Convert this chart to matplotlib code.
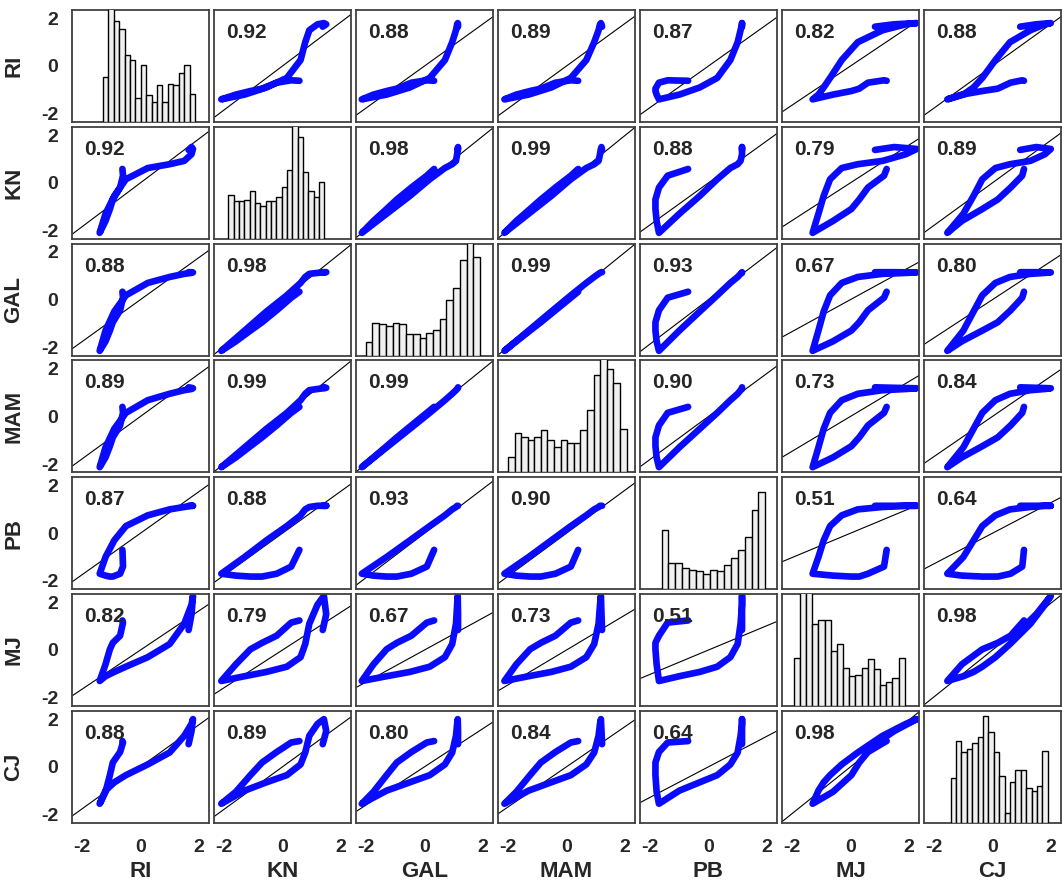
import numpy as np
import matplotlib
matplotlib.use("Agg")
import matplotlib.pyplot as plt

plt.rcParams["font.family"] = ["Liberation Sans", "DejaVu Sans"]
plt.rcParams["axes.unicode_minus"] = False

names = ["RI", "KN", "GAL", "MAM", "PB", "MJ", "CJ"]

# standardised series, read along the trajectory (one end -> low point -> other end)
ri = [-0.62, -0.60, -0.70, -0.95, -1.05, -1.20, -1.40, -1.20, -0.90, -0.50, 0.25, 1.00, 1.50, 1.75, 1.80, 1.75, 1.65]
kn = [0.58, 0.30, -0.20, -0.70, -1.10, -1.60, -2.10, -1.30, -0.55, 0.15, 0.62, 0.78, 0.92, 1.20, 1.42, 1.50, 1.38]
gal = [0.33, 0.08, -0.45, -0.95, -1.30, -1.75, -2.15, -1.30, -0.50, 0.18, 0.70, 0.95, 1.08, 1.12, 1.14, 1.15, 1.15]
mam = [0.40, 0.15, -0.38, -0.88, -1.25, -1.72, -2.13, -1.30, -0.52, 0.15, 0.68, 0.95, 1.10, 1.15, 1.18, 1.20, 1.22]
pb = [-0.70, -1.40, -1.70, -1.82, -1.82, -1.78, -1.70, -1.00, -0.30, 0.30, 0.75, 1.00, 1.10, 1.15, 1.15, 1.15, 1.15]
mj = [1.24, 1.15, 0.60, 0.30, 0.03, -0.60, -1.30, -1.10, -0.92, -0.70, -0.30, 0.25, 1.10, 1.90, 2.27, 1.50, 0.84]
cj = [1.08, 1.02, 0.62, 0.18, -0.35, -1.05, -1.55, -1.00, -0.65, -0.35, 0.10, 0.60, 1.30, 1.80, 2.00, 1.50, 0.95]

corr = [
    [1.00, 0.92, 0.88, 0.89, 0.87, 0.82, 0.88],
    [0.92, 1.00, 0.98, 0.99, 0.88, 0.79, 0.89],
    [0.88, 0.98, 1.00, 0.99, 0.93, 0.67, 0.80],
    [0.89, 0.99, 0.99, 1.00, 0.90, 0.73, 0.84],
    [0.87, 0.88, 0.93, 0.90, 1.00, 0.51, 0.64],
    [0.82, 0.79, 0.67, 0.73, 0.51, 1.00, 0.98],
    [0.88, 0.89, 0.80, 0.84, 0.64, 0.98, 1.00],
]

# histogram bar heights (relative to the panel height) and bin spans
hist_ri = [0.40, 1.05, 0.90, 0.83, 0.60, 0.55, 0.21, 0.51, 0.24, 0.18, 0.33, 0.18, 0.34, 0.33, 0.44, 0.51, 0.25]
hist_kn = [0.39, 0.34, 0.34, 0.35, 0.43, 0.32, 0.29, 0.34, 0.34, 0.37, 0.46, 0.61, 1.05, 0.91, 0.60, 0.43, 0.37, 0.51]
hist_gal = [0.12, 0.29, 0.28, 0.26, 0.29, 0.28, 0.19, 0.19, 0.16, 0.20, 0.23, 0.33, 0.50, 0.60, 0.85, 1.05, 0.88]
hist_mam = [0.14, 0.35, 0.32, 0.29, 0.32, 0.38, 0.29, 0.23, 0.29, 0.26, 0.26, 0.38, 0.56, 0.87, 1.05, 0.92, 0.80, 0.39]
hist_pb = [0.53, 0.23, 0.23, 0.19, 0.17, 0.16, 0.14, 0.17, 0.16, 0.22, 0.28, 0.35, 0.47, 0.71, 0.87]
hist_mj = [0.43, 1.05, 1.05, 0.73, 0.77, 0.77, 0.49, 0.55, 0.34, 0.27, 0.28, 0.34, 0.42, 0.33, 0.19, 0.21, 0.25, 0.43]
hist_cj = [0.40, 0.73, 0.63, 0.66, 0.71, 0.77, 0.95, 0.81, 0.63, 0.42, 0.09, 0.36, 0.47, 0.47, 0.31, 0.28, 0.33, 0.64]
hist_span = [(-1.29, 1.87), (-1.86, 1.44), (-2.02, 1.91), (-2.01, 2.06),
             (-1.61, 1.95), (-1.95, 1.86), (-1.44, 1.90)]

series = [ri, kn, gal, mam, pb, mj, cj]
hists = [hist_ri, hist_kn, hist_gal, hist_mam, hist_pb, hist_mj, hist_cj]

W, H = 1062, 890
fig = plt.figure(figsize=(W / 100, H / 100), dpi=100)
lim = 2.35
n = len(names)

for i in range(n):
    for j in range(n):
        left = 72 + 142 * j
        top = 10 + 116.8 * i
        ax = fig.add_axes([left / W, 1 - (top + 112) / H, 137 / W, 112 / H])
        ax.set_xlim(-lim, lim)
        ax.set_ylim(-lim, lim)
        ax.set_xticks([-2, 0, 2])
        ax.set_yticks([-2, 0, 2])
        ax.tick_params(length=0, labelsize=14)
        for lab in ax.get_xticklabels() + ax.get_yticklabels():
            lab.set_fontweight("bold")
            lab.set_color("#262626")
        ax.tick_params(axis="x", pad=12)
        ax.tick_params(axis="y", pad=10)
        if i < n - 1:
            ax.set_xticklabels([])
        if j > 0:
            ax.set_yticklabels([])
        for s in ax.spines.values():
            s.set_color("#404040")
            s.set_linewidth(1.3)
        if i == n - 1:
            ax.set_xlabel(names[j], fontsize=16, fontweight="bold", color="#262626", labelpad=3)
        if j == 0:
            ax.set_ylabel(names[i], fontsize=16, fontweight="bold", color="#262626", labelpad=12)

        if i == j:
            hx = ax.inset_axes([0, 0, 1, 1])
            hx.set_xlim(-lim, lim)
            hx.set_ylim(0, 1.0)
            lo, hi = hist_span[i]
            nb = len(hists[i])
            bw = (hi - lo) / nb
            centers = np.linspace(lo + bw / 2, hi - bw / 2, nb)
            hx.bar(centers, hists[i], width=bw, color="#f0f0f0", edgecolor="black", linewidth=1.0)
            hx.set_xticks([])
            hx.set_yticks([])
            hx.patch.set_alpha(0)
            for s in hx.spines.values():
                s.set_visible(False)
        else:
            ax.axline((0, 0), slope=corr[i][j], color="black", linewidth=0.8, zorder=1)
            ax.plot(series[j], series[i], color="#0a0aff", linewidth=4.8,
                    solid_capstyle="round", solid_joinstyle="round", zorder=2)
            ax.text(0.085, 0.80, f"{corr[i][j]:.2f}", transform=ax.transAxes,
                    fontsize=15, fontweight="bold", color="#262626", va="center", zorder=3)

fig.savefig("out.png", dpi=100)
